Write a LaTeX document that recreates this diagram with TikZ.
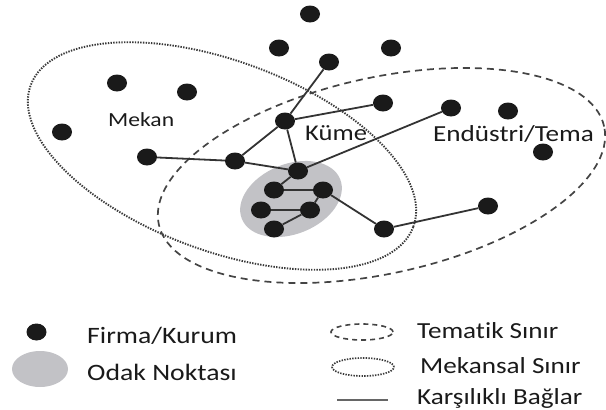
\documentclass[tikz,border=0pt]{standalone}
\usepackage{fontspec}
\setmainfont{Carlito}[FakeStretch=1.18, Ligatures={NoCommon}]
\usetikzlibrary{shapes.geometric}
\definecolor{ink}{HTML}{1A1A1A}
\definecolor{linkc}{HTML}{333333}
\definecolor{focusc}{HTML}{C2C2C6}
\definecolor{bordc}{HTML}{444444}
\definecolor{dotc}{HTML}{3A3A3A}
\pgfdeclarelayer{bg}
\pgfsetlayers{bg,main}
\tikzset{
  firm/.style={ellipse, fill=ink, inner sep=0pt, minimum width=20pt, minimum height=17pt},
  link/.style={draw=linkc, line width=1.8pt},
  themebound/.style={draw=bordc, line width=1.7pt, dash pattern=on 7pt off 5pt},
  spacebound/.style={draw=dotc, line width=1.9pt, dash pattern=on 1.4pt off 1.3pt},
  focus/.style={fill=focusc},
  lbl/.style={text=ink, inner sep=0pt, anchor=base west},
}
\begin{document}
\begin{tikzpicture}[x=1pt, y=-1pt]
\useasboundingbox (0,0) rectangle (606,410);

% firms
\node[firm] (t0) at (310,14) {};
\node[firm] (t1) at (279,48) {};
\node[firm] (t2) at (391,48) {};
\node[firm] (t3) at (329,62) {};
\node[firm] (m1) at (117,83) {};
\node[firm] (m2) at (187,92) {};
\node[firm] (m3) at (62,132) {};
\node[firm] (r1) at (383,103) {};
\node[firm] (r2) at (451,108) {};
\node[firm] (r3) at (508,111) {};
\node[firm] (r4) at (543,152) {};
\node[firm] (hub) at (285,121) {};
\node[firm] (w1) at (147,157) {};
\node[firm] (w2) at (235,161) {};
\node[firm] (c0) at (298,171) {};
\node[firm] (c1) at (274,190) {};
\node[firm] (c2) at (323,190) {};
\node[firm] (c3) at (261,210) {};
\node[firm] (c4) at (310,210) {};
\node[firm] (c5) at (274,229) {};
\node[firm] (s1) at (384,229) {};
\node[firm] (s2) at (488,206) {};

% boundaries, focal area and links
\begin{pgfonlayer}{bg}
\coordinate (spc) at (222,156);
\coordinate (thc) at (381.5,175.5);
\coordinate (foc) at (291,199);
\draw[spacebound, rotate around={-20.3:(spc)}] (spc) ellipse [x radius=204pt, y radius=95pt];
\draw[themebound, rotate around={12.4:(thc)}] (thc) ellipse [x radius=228pt, y radius=98pt];
\fill[focus, rotate around={22:(foc)}] (foc) ellipse [x radius=53pt, y radius=35pt];
\draw[link] (t3) -- (hub);
\draw[link] (hub) -- (r1);
\draw[link] (hub) -- (w2);
\draw[link] (hub) -- (c0);
\draw[link] (w1) -- (w2);
\draw[link] (w2) -- (c0);
\draw[link] (c0) -- (r2);
\draw[link] (c0) -- (c1);
\draw[link] (c1) -- (c2);
\draw[link] (c2) -- (c4);
\draw[link] (c3) -- (c4);
\draw[link] (c4) -- (c5);
\draw[link] (c2) -- (s1);
\draw[link] (s1) -- (s2);
\end{pgfonlayer}

% area labels
\node[lbl, font=\fontsize{20}{24}\selectfont] (lmekan) at (108,126.7) {Mekan};
\node[lbl, font=\fontsize{22.5}{26}\selectfont] (lkume) at (305,140) {Küme};
\node[lbl, font=\fontsize{23}{27}\selectfont] (lend) at (433,141) {Endüstri/Tema};

% legend
\node[firm] (kfirm) at (36.5,332) {};
\node[ellipse, fill=focusc, minimum width=56pt, minimum height=36pt] (kfocus) at (40,369) {};
\node[lbl, font=\fontsize{23.5}{27}\selectfont] (tfirm) at (87,343) {Firma/Kurum};
\node[lbl, font=\fontsize{23.5}{27}\selectfont] (tfocus) at (87,380) {Odak Noktası};
\draw[themebound, line width=1.6pt, dash pattern=on 5pt off 4pt] (362,332) ellipse [x radius=31pt, y radius=8pt];
\draw[spacebound, line width=1.7pt] (363,367) ellipse [x radius=31pt, y radius=9pt];
\coordinate (ka) at (337,400);
\coordinate (kb) at (388,400);
\draw[draw=black!60, line width=2.6pt] (ka) -- (kb);
\node[lbl, font=\fontsize{23}{27}\selectfont] (ttheme) at (417,338) {Tematik Sınır};
\node[lbl, font=\fontsize{23}{27}\selectfont] (tspace) at (420,373) {Mekansal Sınır};
\node[lbl, font=\fontsize{23}{27}\selectfont] (tlink) at (417,404) {Karşılıklı Bağlar};
\end{tikzpicture}
\end{document}
